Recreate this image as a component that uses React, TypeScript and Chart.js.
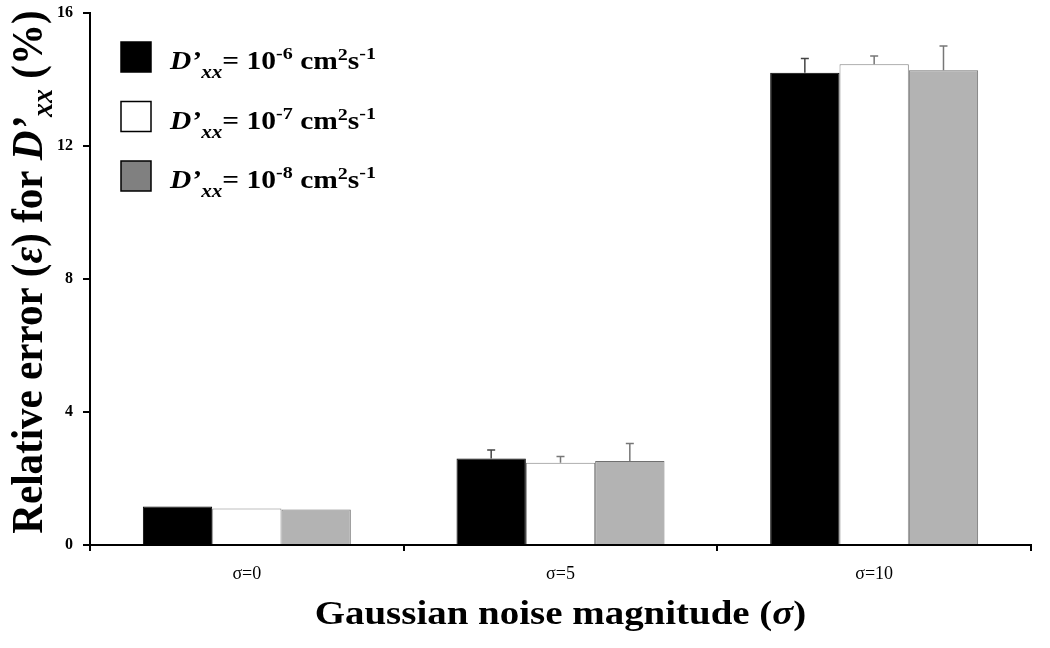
import React, { useEffect, useRef } from 'react';
import { Chart, registerables } from 'chart.js';

Chart.register(...registerables);

const categories = ['σ=0', 'σ=5', 'σ=10'];
const seriesExponents = ['-6', '-7', '-8'];
const seriesA = [1.16, 2.6, 14.2];
const errorsA = [0, 0.26, 0.43];
const seriesB = [1.1, 2.47, 14.46];
const errorsB = [0, 0.19, 0.25];
const seriesC = [1.07, 2.53, 14.28];
const errorsC = [0, 0.52, 0.73];
const yTicks = [0, 4, 8, 12, 16];

const SERIF = '"Liberation Serif", "Times New Roman", serif';
const SX = 1.18;

type Seg = { t: string; size: number; italic?: boolean; dy?: number; bold?: boolean };

function segFont(s: Seg) {
  return `${s.italic ? 'italic ' : ''}${s.bold === false ? '' : 'bold '}${s.size}px ${SERIF}`;
}
function measureSegs(ctx: CanvasRenderingContext2D, segs: Seg[]) {
  let w = 0;
  for (const s of segs) {
    ctx.font = segFont(s);
    w += ctx.measureText(s.t).width;
  }
  return w;
}
function drawSegs(ctx: CanvasRenderingContext2D, segs: Seg[], x: number, y: number) {
  let cx = x;
  for (const s of segs) {
    ctx.font = segFont(s);
    ctx.fillText(s.t, cx, y + (s.dy || 0));
    cx += ctx.measureText(s.t).width;
  }
}

const errorBarPlugin = {
  id: 'errorBars',
  afterDatasetsDraw(chart: any) {
    const ctx: CanvasRenderingContext2D = chart.ctx;
    const yScale = chart.scales.y;
    chart.data.datasets.forEach((ds: any, i: number) => {
      const meta = chart.getDatasetMeta(i);
      meta.data.forEach((el: any, j: number) => {
        const err = ds.errors[j];
        if (!err) return;
        const top = yScale.getPixelForValue(ds.data[j] + err);
        ctx.save();
        ctx.strokeStyle = ds.errorColor;
        ctx.lineWidth = 1.5;
        ctx.beginPath();
        ctx.moveTo(el.x, el.y);
        ctx.lineTo(el.x, top);
        ctx.moveTo(el.x - 4, top);
        ctx.lineTo(el.x + 4, top);
        ctx.stroke();
        ctx.restore();
      });
    });
  },
};

const textPlugin = {
  id: 'richText',
  afterDraw(chart: any) {
    const ctx: CanvasRenderingContext2D = chart.ctx;
    const area = chart.chartArea;
    ctx.save();
    ctx.fillStyle = '#000';
    ctx.textBaseline = 'alphabetic';
    ctx.textAlign = 'left';

    // X title
    const xSegs: Seg[] = [
      { t: 'Gaussian noise magnitude (', size: 33 },
      { t: 'σ', size: 33, italic: true },
      { t: ')', size: 33 },
    ];
    const xw = measureSegs(ctx, xSegs) * SX;
    ctx.save();
    ctx.translate((area.left + area.right) / 2 - xw / 2, 624);
    ctx.scale(SX, 1);
    drawSegs(ctx, xSegs, 0, 0);
    ctx.restore();

    // Y title
    const ySegs: Seg[] = [
      { t: 'Relative error (', size: 41 },
      { t: 'ε', size: 41, italic: true },
      { t: ') for ', size: 41 },
      { t: 'D’', size: 41, italic: true },
      { t: 'xx', size: 28, italic: true, dy: 9 },
      { t: ' (%)', size: 41 },
    ];
    const yw = measureSegs(ctx, ySegs);
    ctx.save();
    ctx.translate(42, 272);
    ctx.rotate(-Math.PI / 2);
    ctx.scale(1, 1.06);
    drawSegs(ctx, ySegs, -yw / 2, 0);
    ctx.restore();

    // Legend
    const fills = ['#000000', '#ffffff', '#808080'];
    seriesExponents.forEach((exp, i) => {
      const top = 42 + i * 59.5;
      ctx.fillStyle = fills[i];
      ctx.fillRect(121, top, 30, 30);
      ctx.strokeStyle = '#000';
      ctx.lineWidth = 1.5;
      ctx.strokeRect(121, top, 30, 30);
      ctx.fillStyle = '#000';
      const segs: Seg[] = [
        { t: 'D’', size: 25, italic: true },
        { t: 'xx', size: 18, italic: true, dy: 9 },
        { t: '= 10', size: 25 },
        { t: exp, size: 17, dy: -10 },
        { t: ' cm', size: 25 },
        { t: '2', size: 17, dy: -9 },
        { t: 's', size: 25 },
        { t: '-1', size: 17, dy: -10 },
      ];
      ctx.save();
      ctx.translate(170, top + 27);
      ctx.scale(SX, 1);
      drawSegs(ctx, segs, 0, 0);
      ctx.restore();
    });
    ctx.restore();
  },
};

export default function App() {
  const ref = useRef<HTMLCanvasElement | null>(null);
  useEffect(() => {
    document.body.style.margin = '0';
    if (!ref.current) return;
    const chart = new Chart(ref.current, {
      type: 'bar',
      data: {
        labels: categories,
        datasets: [
          {
            label: 'D’xx = 10-6 cm2s-1',
            data: seriesA,
            errors: errorsA,
            errorColor: '#444444',
            backgroundColor: '#000000',
            borderColor: '#000000',
            borderWidth: 1,
          } as any,
          {
            label: 'D’xx = 10-7 cm2s-1',
            data: seriesB,
            errors: errorsB,
            errorColor: '#777777',
            backgroundColor: '#ffffff',
            borderColor: '#808080',
            borderWidth: 1,
          } as any,
          {
            label: 'D’xx = 10-8 cm2s-1',
            data: seriesC,
            errors: errorsC,
            errorColor: '#777777',
            backgroundColor: '#b3b3b3',
            borderColor: '#707070',
            borderWidth: 1,
          } as any,
        ],
      },
      options: {
        responsive: false,
        animation: false,
        layout: { padding: { top: 13, right: 19, left: 0, bottom: 0 } },
        datasets: { bar: { categoryPercentage: 0.663, barPercentage: 1.0 } },
        plugins: { legend: { display: false }, tooltip: { enabled: false }, title: { display: false } },
        scales: {
          x: {
            offset: true,
            grid: { offset: true, drawOnChartArea: false, drawTicks: true, tickLength: 6, color: '#000', lineWidth: 2 },
            border: { display: true, color: '#000', width: 2 },
            ticks: { color: '#000', font: { family: SERIF, size: 18 }, padding: 12 },
            afterFit: (s: any) => { s.height = 103; s.paddingLeft = 0; s.paddingRight = 0; },
          },
          y: {
            min: 0,
            max: 16,
            afterBuildTicks: (s: any) => { s.ticks = yTicks.map((v) => ({ value: v })); },
            grid: { drawOnChartArea: false, drawTicks: true, tickLength: 7, color: '#000', lineWidth: 2 },
            border: { display: true, color: '#000', width: 2 },
            ticks: { color: '#000', font: { family: SERIF, size: 16, weight: 'bold' }, padding: 10 },
            afterFit: (s: any) => { s.width = 90; s.paddingTop = 0; s.paddingBottom = 0; },
          },
        },
      } as any,
      plugins: [errorBarPlugin, textPlugin],
    });
    return () => chart.destroy();
  }, []);
  return (
    <div style={{ width: 1050, height: 648 }}>
      <canvas ref={ref} width={1050} height={648} />
    </div>
  );
}
